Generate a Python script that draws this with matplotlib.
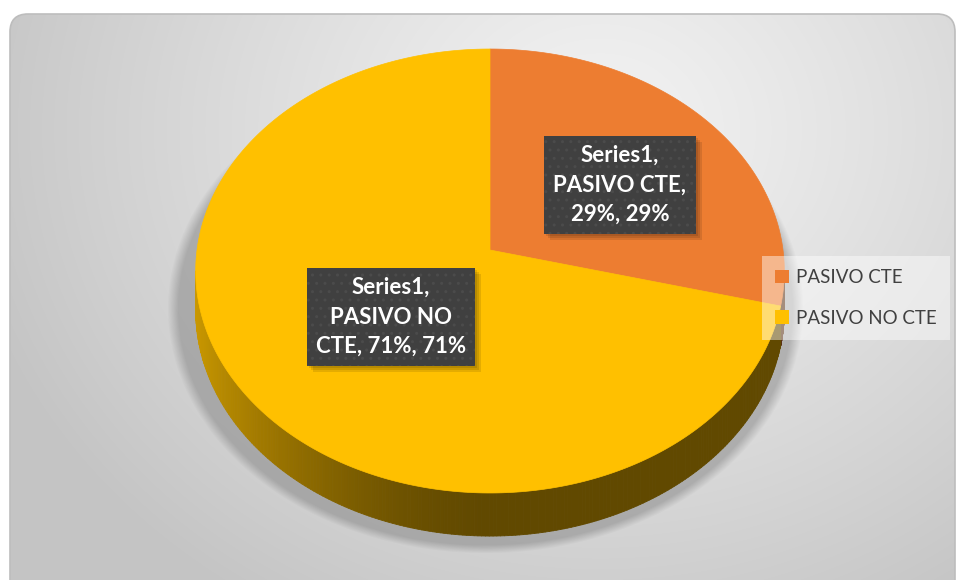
import textwrap
import numpy as np
import matplotlib
matplotlib.use('Agg')
import matplotlib.pyplot as plt
from matplotlib.patches import Polygon, FancyBboxPatch, Patch, Rectangle
from matplotlib.collections import PolyCollection
from matplotlib.colors import to_rgb

# data
series_name = 'Series1'
categories = ['PASIVO CTE', 'PASIVO NO CTE']
values = [29, 71]
colors = ['#ED7D31', '#FFC000']

W, H = 958, 580
plt.rcParams['font.family'] = ['Lato', 'DejaVu Sans']

fig = plt.figure(figsize=(W / 100, H / 100), dpi=100)
ax = fig.add_axes([0, 0, 1, 1])
ax.set_xlim(0, W)
ax.set_ylim(H, 0)
ax.axis('off')

# chart area: rounded box with a soft radial gradient
frame = FancyBboxPatch((10, 14), 945, 590, boxstyle='round,pad=0,rounding_size=18',
                       fc='none', ec='#bdbdbd', lw=1.2, zorder=1)
ax.add_patch(frame)
yy, xx = np.mgrid[0:H, 0:W]
r = np.sqrt(((xx - 600) / 650.0) ** 2 + ((yy - 130) / 560.0) ** 2)
t = np.clip(r, 0, 1) ** 1.2
light, dark = np.array([0.95, 0.95, 0.95]), np.array([0.77, 0.77, 0.77])
bg = light[None, None, :] * (1 - t[..., None]) + dark[None, None, :] * t[..., None]
im = ax.imshow(bg, extent=(0, W, H, 0), zorder=0, interpolation='bilinear')
im.set_clip_path(frame)

# pie geometry (simple perspective of a flat disc)
cx, cy = 490.0, 250.0
k = 0.0946
A, B = 293.0, 220.0
depth = 39.0


def proj(theta, rad=1.0, z=0.0):
    x = rad * np.cos(theta)
    y = rad * np.sin(theta)
    s = 1.0 / (1.0 + k * y)
    return cx + A * x * s, cy - B * y * s + z * s


# soft shadow under the pie
sr = np.sqrt(((xx - 485) / 318.0) ** 2 + ((yy - 308) / 245.0) ** 2)
sa = 0.36 * np.clip((1.0 - sr) / 0.035, 0, 1)
shadow = np.zeros((H, W, 4))
shadow[..., :3] = 0.38
shadow[..., 3] = sa
ax.imshow(shadow, extent=(0, W, H, 0), zorder=2, interpolation='bilinear')

fracs = np.array(values, dtype=float) / sum(values)
starts = np.pi / 2 - 2 * np.pi * np.concatenate([[0], np.cumsum(fracs)[:-1]])
ends = starts - 2 * np.pi * fracs

# side walls of the front part
vis_lo, vis_hi = -np.pi + np.arcsin(k), -np.arcsin(k)
for a0, a1, col in zip(starts, ends, colors):
    lo, hi = max(a1, vis_lo), min(a0, vis_hi)
    if lo >= hi:
        continue
    th = np.linspace(lo, hi, 240)
    tx, ty = proj(th)
    bx, by = proj(th, z=depth)
    base = np.array(to_rgb(col))
    quads, fcs = [], []
    for i in range(len(th) - 1):
        quads.append([(tx[i], ty[i]), (tx[i + 1], ty[i + 1]),
                      (bx[i + 1], by[i + 1]), (bx[i], by[i])])
        c = -np.cos(0.5 * (th[i] + th[i + 1]))
        shade = 0.38 + 0.42 * np.clip(c, 0, 1) ** 1.6
        fcs.append(np.clip(base * shade, 0, 1))
    ax.add_collection(PolyCollection(quads, facecolors=fcs, edgecolors=fcs,
                                     linewidths=0.6, zorder=3))

# top faces
for a0, a1, col in zip(starts, ends, colors):
    th = np.linspace(a0, a1, 300)
    px, py = proj(th)
    pts = np.column_stack([np.r_[cx, px], np.r_[cy, py]])
    ax.add_patch(Polygon(pts, closed=True, fc=col, ec=col, lw=0.5, zorder=4))

# data labels
label_pos = [(620, 185), (391, 317)]
labels = []
for cat, frac, (lx, ly) in zip(categories, fracs, label_pos):
    pct = int(round(frac * 100))
    txt = '\n'.join(textwrap.wrap(f'{series_name}, {cat}, {pct}%, {pct}%', 13))
    labels.append(ax.text(lx, ly, txt, color='white', zorder=6, ha='center', va='center',
                          fontsize=16, fontweight='bold', linespacing=1.5,
                          multialignment='center',
                          bbox=dict(boxstyle='square,pad=0.42', fc='#404040', ec='#4b4b4b',
                                    lw=0, hatch='..')))

# drop shadows behind the label boxes
fig.canvas.draw()
inv = ax.transData.inverted()
for lab in labels:
    ext = lab.get_bbox_patch().get_window_extent()
    (x0, y0), (x1, y1) = inv.transform([[ext.x0, ext.y0], [ext.x1, ext.y1]])
    for j, a in enumerate([0.10, 0.10, 0.10]):
        off = 2 + 2 * j
        ax.add_patch(Rectangle((min(x0, x1) + off, min(y0, y1) + off),
                               abs(x1 - x0), abs(y1 - y0), fc='black', ec='none',
                               alpha=a, zorder=5))

# legend
handles = [Patch(fc=c, ec='none') for c in colors]
leg = ax.legend(handles, categories, loc='upper left',
                frameon=True, fancybox=False, fontsize=13.5, labelcolor='#404040',
                handlelength=0.72, handleheight=0.72, handletextpad=0.4,
                labelspacing=1.25, borderpad=0.7, borderaxespad=0)
leg.set_bbox_to_anchor((762 / W, 1 - 256 / H), transform=fig.transFigure)
leg.get_frame().set_facecolor('white')
leg.get_frame().set_alpha(0.45)
leg.get_frame().set_edgecolor('none')
leg.set_zorder(7)

fig.savefig('out.png', dpi=100)
